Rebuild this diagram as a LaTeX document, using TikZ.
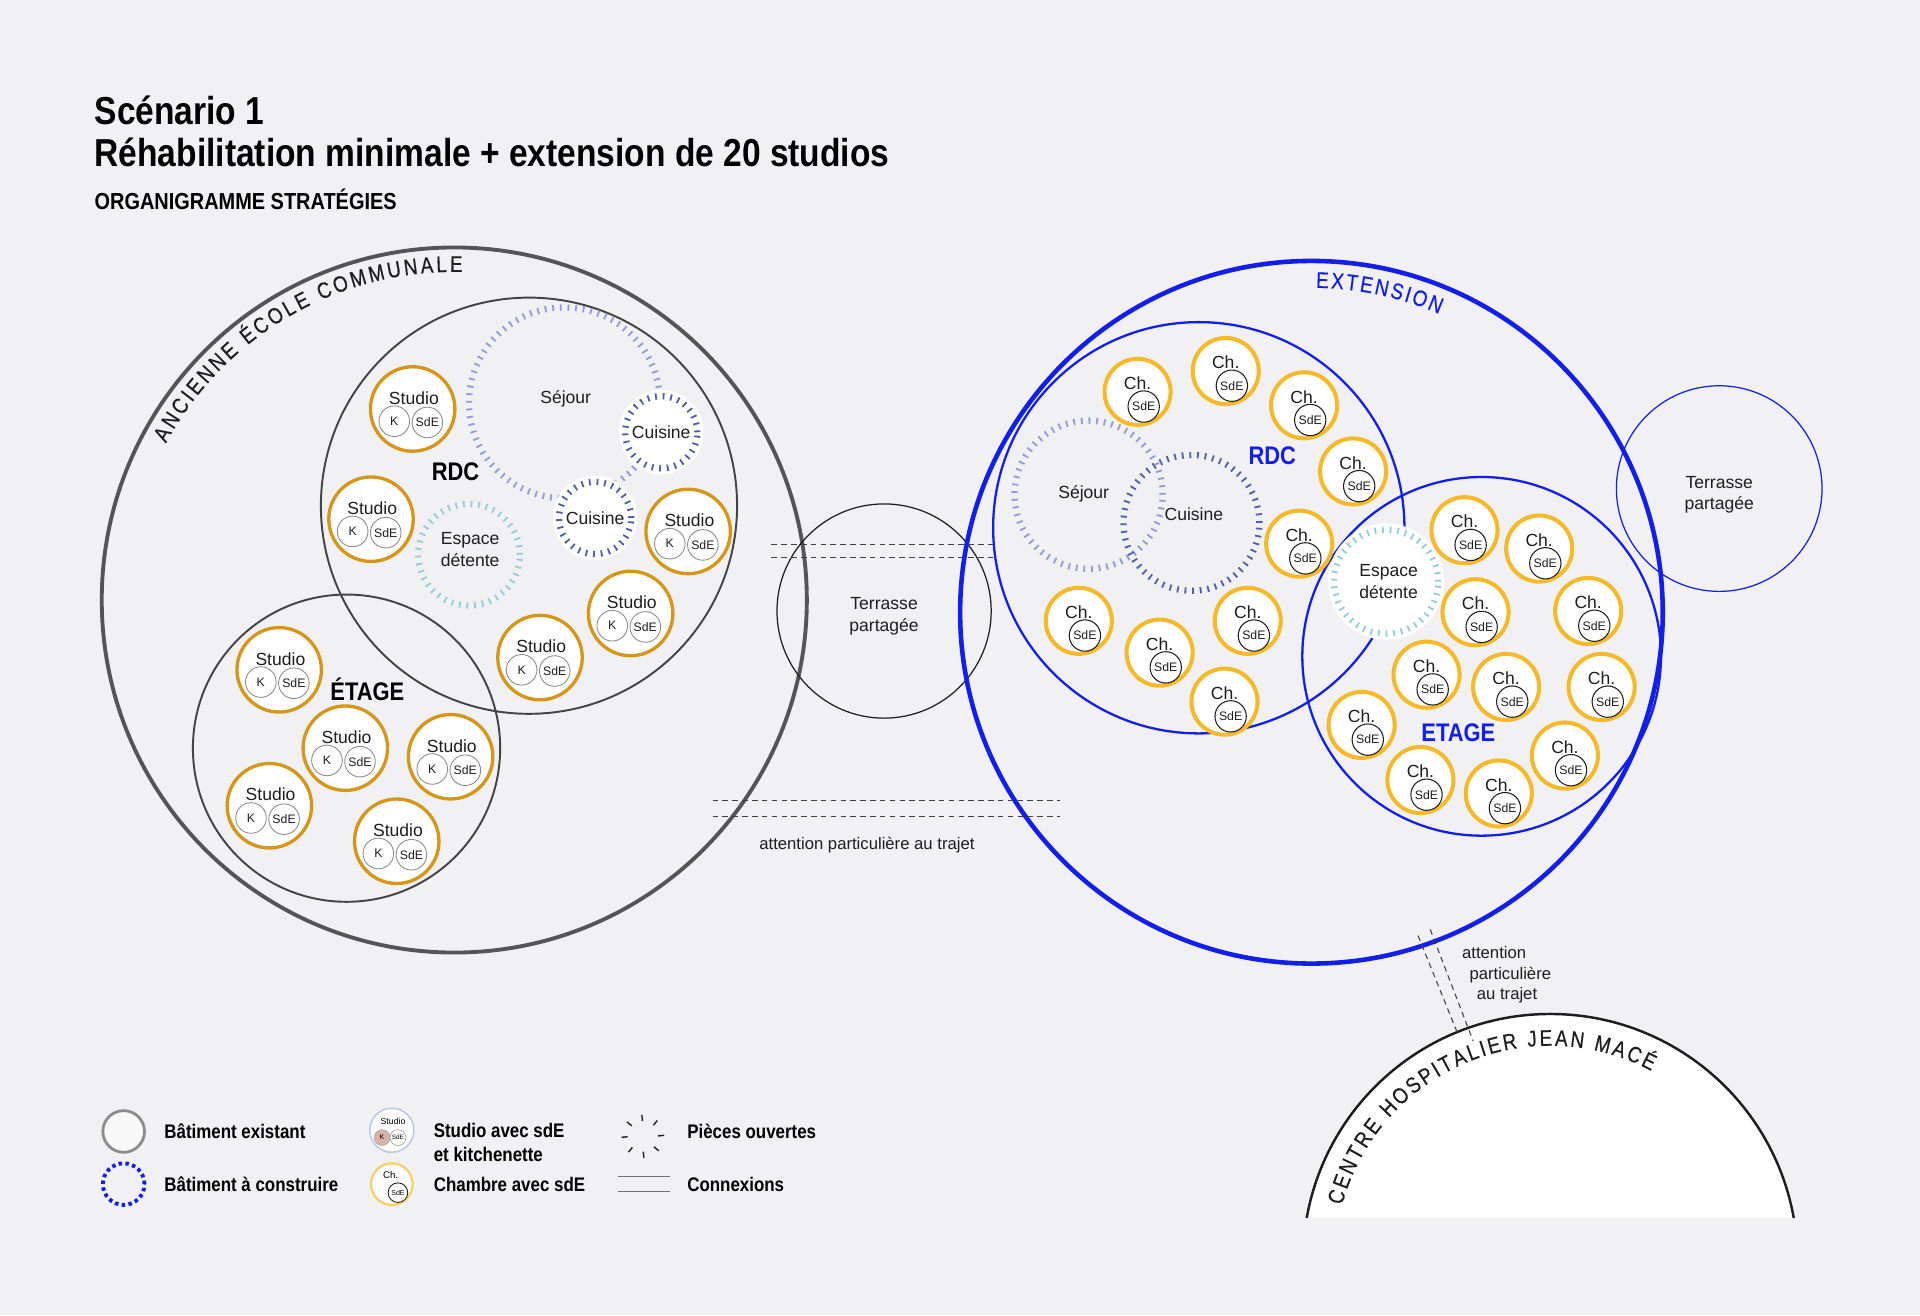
\documentclass[tikz,border=0pt]{standalone}
\usepackage{fontspec}
\setmainfont{Liberation Sans}
\newfontfamily\condfont[FakeStretch=0.86]{Liberation Sans}
\newfontfamily\arcfam[FakeStretch=0.84, FakeBold=0.5]{Liberation Sans}
\usetikzlibrary{decorations.text}

\definecolor{fond}{RGB}{241,241,243}
\definecolor{gris}{RGB}{85,85,85}
\definecolor{grisfin}{RGB}{68,68,68}
\definecolor{encre}{RGB}{30,30,30}
\definecolor{bleu}{RGB}{18,30,235}
\definecolor{ocre}{RGB}{214,150,25}
\definecolor{jaune}{RGB}{245,185,42}
\definecolor{jaunepale}{RGB}{248,208,105}
\definecolor{sejourc}{RGB}{145,158,215}
\definecolor{cuisinec}{RGB}{82,97,165}
\definecolor{detentec}{RGB}{150,205,218}
\definecolor{legbleu}{RGB}{188,200,235}
\definecolor{kfill}{RGB}{216,178,164}

\newcommand\arcfont{\arcfam\fontsize{12.8}{13}\selectfont}

\tikzset{
    zone/.style={circle, inner sep=0pt, minimum size=#1*0.049cm},
    roomtext/.style={font=\fontsize{10}{12.4}\selectfont, text=encre, align=center},
    ouvert/.style={draw=#1, line width=3.6pt, dash pattern=on 1.05pt off 3.3pt},
    halo/.style={preaction={draw=white, fill=white, solid, line width=7pt}},
    studioring/.style={zone=34.5, draw=ocre, line width=1.9pt, fill=white},
    chring/.style={zone=27, draw=jaune, line width=2.3pt, fill=white},
    mini/.style={zone=12.5, draw=black!45, line width=0.5pt, fill=white,
        font=\fontsize{7}{8}\selectfont, text=encre},
    minich/.style={zone=12.8, draw=encre, line width=0.6pt, fill=white,
        font=\fontsize{7}{8}\selectfont, text=encre},
    niveau/.style={font=\condfont\fontsize{14.5}{16}\selectfont\bfseries},
    titre/.style={inner sep=0pt, font=\condfont\fontsize{22.2}{24}\selectfont\bfseries, text=black},
    soustitre/.style={inner sep=0pt, font=\condfont\fontsize{13.2}{15}\selectfont\bfseries, text=black},
    legende/.style={inner sep=0pt, align=left, text=black,
        font=\condfont\fontsize{11.2}{13.2}\selectfont\bfseries},
    lien/.style={draw=encre!85, line width=0.6pt, dash pattern=on 3.2pt off 2.4pt},
    note/.style={font=\fontsize{9.5}{11.8}\selectfont, text=encre},
    studio/.pic={
        \node[studioring] (-ring) at (0,0) {};
        \node[roomtext] (-txt) at (1,-9) {Studio};
        \node[mini] (-k) at (-15,10) {K};
        \node[mini] (-sde) at (12,11) {SdE};
    },
    chambre/.pic={
        \node[chring] (-ring) at (0,0) {};
        \node[roomtext] (-txt) at (0,-7) {Ch.};
        \node[minich] (-sde) at (5,12) {SdE};
    }
}

\begin{document}
\begin{tikzpicture}[x=0.0245cm, y=-0.0245cm]
    % Background
    \fill[fond] (0,0) rectangle (1568,1074);
    \useasboundingbox (0,0) rectangle (1568,1074);

    % Title
    \node[titre, anchor=base west] (titreA) at (77,102) {Scénario 1};
    \node[titre, anchor=base west] (titreB) at (77,136) {Réhabilitation minimale + extension de 20 studios};
    \node[soustitre, anchor=base west] (titreC) at (77,171) {ORGANIGRAMME STRATÉGIES};

    % Existing building
    \node[zone=288, draw=gris, line width=2.2pt] (ecole) at (371,490) {};
    \node[zone=170, draw=grisfin, line width=1.1pt] (rdcA) at (432,413) {};
    \node[zone=125.5, draw=grisfin, line width=1.1pt] (etageA) at (283,611) {};
    \node[zone=87.5, draw=encre, line width=0.7pt] (terrasseA) at (722,499) {};
    \node[roomtext] (terrasseAt) at (722,503) {Terrasse\\partagée};

    % Extension
    \node[zone=287, draw=bleu, line width=2.6pt] (extension) at (1071,500) {};
    \node[zone=168, draw=bleu, line width=1.3pt] (rdcB) at (979,431) {};
    \node[zone=146.5, draw=bleu, line width=1.3pt] (etageB) at (1210,536) {};
    \node[zone=84, draw=bleu, line width=0.7pt] (terrasseB) at (1404,399) {};
    \node[roomtext] (terrasseBt) at (1404,404) {Terrasse\\partagée};

    % Hospital
    \begin{scope}
        \clip (1000,700) rectangle (1568,994);
        \node[zone=202, draw=encre, line width=1.4pt, fill=white] (hopital) at (1266,1030) {};
    \end{scope}

    % Curved names
    \path[decorate, decoration={text along path, text color=encre,
        text={|\arcfont|ANCIENNE ÉCOLE COMMUNALE}, text align={fit to path}}]
        (ecole.center) ++(-151.5:268) arc[start angle=-151.5, end angle=-88.6, radius=268];
    \path[decorate, decoration={text along path, text color=bleu,
        text={|\arcfont|EXTENSION}, text align={fit to path}}]
        (extension.center) ++(-89.2:265) arc[start angle=-89.2, end angle=-66.8, radius=265];
    \path[decorate, decoration={text along path, text color=encre,
        text={|\arcfont|CENTRE HOSPITALIER JEAN MACÉ}, text align={fit to path}}]
        (hopital.center) ++(-165:176) arc[start angle=-165, end angle=-62, radius=176];

    % Connections
    \coordinate (lienA1) at (630,445);
    \coordinate (lienA2) at (812,445);
    \coordinate (lienA3) at (630,455);
    \coordinate (lienA4) at (812,455);
    \coordinate (lienB1) at (582,654);
    \coordinate (lienB2) at (866,654);
    \coordinate (lienB3) at (582,667);
    \coordinate (lienB4) at (866,667);
    \coordinate (lienC1) at (1158,764);
    \coordinate (lienC2) at (1190,843);
    \coordinate (lienC3) at (1168,759);
    \coordinate (lienC4) at (1203,850);
    \draw[lien] (lienA1) -- (lienA2);
    \draw[lien] (lienA3) -- (lienA4);
    \draw[lien] (lienB1) -- (lienB2);
    \draw[lien] (lienB3) -- (lienB4);
    \draw[lien] (lienC1) -- (lienC2);
    \draw[lien] (lienC3) -- (lienC4);
    \node[note] (noteA) at (708,690) {attention particulière au trajet};
    \node[note, align=left, anchor=west] (noteB) at (1189,796)
        {attention\\\hspace*{4.2pt}particulière\\\hspace*{8.4pt}au trajet};

    % Open rooms
    \node[zone=78, ouvert=sejourc] (sejourA) at (461,329) {};
    \node[roomtext] (sejourAt) at (462,326) {Séjour};
    \node[zone=41.5, ouvert=detentec] (detenteA) at (383,453) {};
    \node[roomtext] (detenteAt) at (384,449) {Espace\\détente};
    \node[zone=29.5, ouvert=cuisinec, halo, roomtext] (cuisineA1) at (540,353) {Cuisine};
    \node[zone=29.5, ouvert=cuisinec, halo, roomtext] (cuisineA2) at (486,423) {Cuisine};
    \node[zone=60.5, ouvert=sejourc] (sejourB) at (889,404) {};
    \node[zone=55.5, ouvert=cuisinec] (cuisineB) at (973,427) {};
    \node[roomtext] (sejourBt) at (885,403) {Séjour};
    \node[roomtext] (cuisineBt) at (975,420) {Cuisine};
    \node[zone=42.5, ouvert=detentec, halo] (detenteB) at (1132,475) {};
    \node[roomtext] (detenteBt) at (1134,475) {Espace\\détente};

    % Studios
    \foreach \n/\x/\y in {1/337/334, 2/303/424, 3/562/434, 4/515/501, 5/441/537}
        \pic (sA\n) at (\x,\y) {studio};
    \foreach \n/\x/\y in {1/228/547, 2/282/611, 3/368/618, 4/220/658, 5/324/687}
        \pic (sE\n) at (\x,\y) {studio};

    % Rooms
    \foreach \n/\x/\y in {1/929/320, 2/1001/303, 3/1065/331, 4/1105/385, 5/1061/444,
                          6/881/507, 7/947/533, 8/1019/507, 9/1000/573}
        \pic (chA\n) at (\x,\y) {chambre};
    \foreach \n/\x/\y in {1/1196/433, 2/1257/448, 3/1205/500, 4/1297/499, 5/1165/551,
                          6/1230/561, 7/1308/561, 8/1112/592, 9/1278/617, 10/1160/637, 11/1224/648}
        \pic (chE\n) at (\x,\y) {chambre};

    % Levels
    \node[niveau, text=black] (rdcAt) at (372,385) {RDC};
    \node[niveau, text=black] (etageAt) at (300,563) {ÉTAGE};
    \node[niveau, text=bleu] (rdcBt) at (1039,372) {RDC};
    \node[niveau, text=bleu] (etageBt) at (1191,598) {ETAGE};

    % Legend
    \node[zone=17, draw=black!45, line width=1.6pt, fill=white!60!fond] (legA) at (101,924) {};
    \node[legende, anchor=west] (legAt) at (134,924) {Bâtiment existant};
    \node[zone=17, draw=bleu, line width=2.2pt, dash pattern=on 2pt off 1.9pt] (legB) at (101,967) {};
    \node[legende, anchor=west] (legBt) at (134,967) {Bâtiment à construire};

    \node[zone=18, draw=legbleu, line width=0.9pt, fill=white] (legC) at (320,923) {};
    \node[inner sep=0pt, font=\fontsize{5}{5}\selectfont] (legCs) at (321,916) {Studio};
    \node[zone=6.5, draw=black!35, line width=0.3pt, fill=kfill, font=\fontsize{4}{4}\selectfont] (legCk) at (312,929) {K};
    \node[zone=6.5, draw=black!45, line width=0.3pt, fill=white, font=\fontsize{3.6}{4}\selectfont] (legCe) at (325,929) {SdE};
    \node[legende, anchor=west] (legCt) at (354,933) {Studio avec sdE\\et kitchenette};

    \node[zone=17, draw=jaunepale, line width=1.3pt, fill=white] (legD) at (320,967) {};
    \node[inner sep=0pt, font=\fontsize{5.5}{6}\selectfont] (legDc) at (319,960) {Ch.};
    \node[zone=8, draw=encre, line width=0.5pt, fill=white, font=\fontsize{4}{4}\selectfont] (legDe) at (325,974) {SdE};
    \node[legende, anchor=west] (legDt) at (354,967) {Chambre avec sdE};

    \node[zone=15, draw=encre, line width=3.5pt, dash pattern=on 0.8pt off 7.4pt] (legE) at (525,928) {};
    \node[legende, anchor=west] (legEt) at (561,924) {Pièces ouvertes};

    \coordinate (legF1) at (505,961);
    \coordinate (legF2) at (547,961);
    \coordinate (legF3) at (505,973);
    \coordinate (legF4) at (547,973);
    \draw[black!55, line width=0.7pt] (legF1) -- (legF2);
    \draw[black!55, line width=0.7pt] (legF3) -- (legF4);
    \node[legende, anchor=west] (legFt) at (561,967) {Connexions};
\end{tikzpicture}
\end{document}
